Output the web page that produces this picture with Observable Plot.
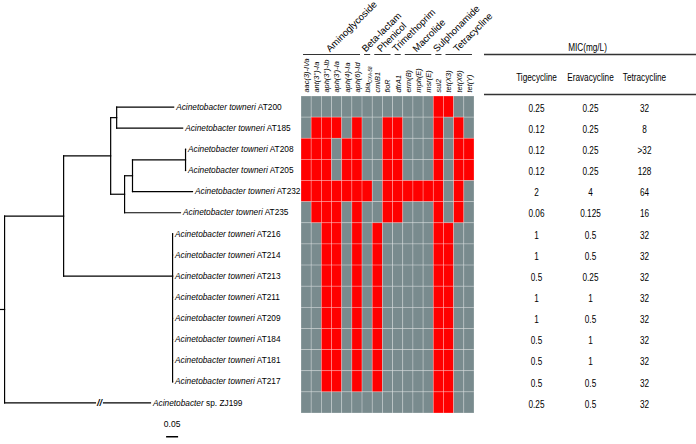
<!DOCTYPE html>
<html><head><meta charset="utf-8">
<script src="https://cdn.jsdelivr.net/npm/d3@7"></script>
<script src="https://cdn.jsdelivr.net/npm/@observablehq/plot@0.6"></script>
<style>
body{margin:0;background:#fff}
#chart{display:flex;width:696px;height:444px;background:#fff}
#chart svg{display:block;flex:none}
</style></head><body><div id="chart"></div>
<script>
// ---------------- data ----------------
const strains = ["AT200","AT185","AT208","AT205","AT232","AT235","AT216","AT214","AT213","AT211","AT209","AT184","AT181","AT217","ZJ199"];
const speciesNames = ["Acinetobacter towneri","Acinetobacter towneri","Acinetobacter towneri","Acinetobacter towneri","Acinetobacter towneri","Acinetobacter towneri","Acinetobacter towneri","Acinetobacter towneri","Acinetobacter towneri","Acinetobacter towneri","Acinetobacter towneri","Acinetobacter towneri","Acinetobacter towneri","Acinetobacter towneri","Acinetobacter"];
const strainSuffix = ["AT200","AT185","AT208","AT205","AT232","AT235","AT216","AT214","AT213","AT211","AT209","AT184","AT181","AT217","sp. ZJ199"];
// tree with branch lengths (substitutions/site)
const treeNewick = "((((AT200:0.2375,AT185:0.275):0.025,(((AT208:0,AT205:0):0.221,AT232:0.25):0.033,AT235:0.233):0.058):0.196,(AT216:0,AT214:0,AT213:0,AT211:0,AT209:0,AT184:0,AT181:0,AT217:0):0.454):0.246,ZJ199:0.608):0.017;";
const polytomyJoinLeaf = "AT213";
const branchBreakLeaf = "ZJ199";
const branchBreakSpan = [0.623, 0.678];
const scaleBarLength = 0.05;
const scaleBarLabel = "0.05";
const scaleBarStart = 0.69;

const genes = ["aac(3)-IVa","ant(3'')-Ia","aph(3'')-Ib","aph(3')-Ia","aph(4)-Ia","aph(6)-Id","blaOXA-58","cmlB1","floR","dfrA1","erm(B)","mph(E)","msr(E)","sul2","tet(X3)","tet(X6)","tet(Y)"];
const groupNames = ["Aminoglycoside","Beta-lactam","Phenicol","Trimethoprim","Macrolide","Sulphonamide","Tetracycline"];
const groupFirstGene = [0,6,7,9,10,13,14];
const groupLastGene = [5,6,8,9,12,13,16];
// presence (1) / absence (0) of each gene, one row per strain
const presence = [
  [0,0,0,0,0,0,0,0,0,0,0,0,0,1,1,0,0], // AT200
  [0,1,1,1,0,1,0,0,1,1,0,0,0,1,0,1,0], // AT185
  [1,1,1,0,1,1,0,0,1,1,0,0,0,1,0,1,1], // AT208
  [1,1,1,0,1,1,0,0,1,1,0,0,0,1,0,1,1], // AT205
  [1,1,1,1,1,1,1,0,1,1,1,1,1,1,0,1,0], // AT232
  [0,1,1,1,0,1,0,0,1,1,0,0,0,1,0,1,0], // AT235
  [0,0,1,1,0,1,0,1,0,0,0,0,0,1,1,0,0], // AT216
  [0,0,1,1,0,1,0,1,0,0,0,0,0,1,1,0,0], // AT214
  [0,0,1,1,0,1,0,1,0,0,0,0,0,1,1,0,0], // AT213
  [0,0,1,1,0,1,0,1,0,0,0,0,0,1,1,0,0], // AT211
  [0,0,1,1,0,1,0,1,0,0,0,0,0,1,1,0,0], // AT209
  [0,0,1,1,0,1,0,1,0,0,0,0,0,1,1,0,0], // AT184
  [0,0,1,1,0,1,0,1,0,0,0,0,0,1,1,0,0], // AT181
  [0,0,1,1,0,1,0,1,0,0,0,0,0,1,1,0,0], // AT217
  [0,0,0,0,0,0,0,0,0,0,0,0,0,1,1,0,0]  // ZJ199
];

const micTitle = "MIC(mg/L)";
const drugs = ["Tigecycline","Eravacycline","Tetracycline"];
const tigecycline = ["0.25","0.12","0.12","0.12","2","0.06","1","1","0.5","1","1","0.5","0.5","0.5","0.25"];
const eravacycline = ["0.25","0.25","0.25","0.25","4","0.125","0.5","0.5","0.25","1","0.5","1","1","0.5","0.5"];
const tetracycline = ["32","8",">32","128","64","16","32","32","32","32","32","32","32","32","32"];

// ---------------- helpers ----------------
function parseNewick(str) {
  const s = str.replace(/\s+/g, "").replace(/;$/, "");
  let i = 0;
  function node() {
    const n = {children: []};
    if (s[i] === "(") {
      i++;
      n.children.push(node());
      while (s[i] === ",") { i++; n.children.push(node()); }
      i++;
    }
    let name = "";
    while (i < s.length && !":,()".includes(s[i])) name += s[i++];
    n.name = name;
    n.length = 0;
    if (s[i] === ":") {
      i++;
      let num = "";
      while (i < s.length && !",()".includes(s[i])) num += s[i++];
      n.length = +num;
    }
    return n;
  }
  return node();
}

const root = parseNewick(treeNewick);
function layout(n, px) {
  n.x = px + n.length;
  n.children.forEach(c => layout(c, n.x));
  if (!n.children.length) {
    n.y = strains.indexOf(n.name) + 0.5;
  } else if (n.children.length > 2) {
    const j = n.children.find(c => c.name === polytomyJoinLeaf);
    n.y = j ? j.y : (n.children[0].y + n.children[n.children.length - 1].y) / 2;
  } else {
    n.y = (n.children[0].y + n.children[n.children.length - 1].y) / 2;
  }
}
layout(root, 0);

const segments = [];
const leaves = [];
const breaks = [];
(function walk(n, parent) {
  const px = parent ? parent.x : 0;
  if (n.name === branchBreakLeaf) {
    const a = px + (n.x - px) * branchBreakSpan[0];
    const b = px + (n.x - px) * branchBreakSpan[1];
    segments.push({x1: px, x2: a, y1: n.y, y2: n.y});
    segments.push({x1: b, x2: n.x, y1: n.y, y2: n.y});
    breaks.push({x: (a + b) / 2, y: n.y});
  } else {
    segments.push({x1: px, x2: n.x, y1: n.y, y2: n.y});
  }
  if (n.children.length) {
    segments.push({x1: n.x, x2: n.x, y1: n.children[0].y, y2: n.children[n.children.length - 1].y});
    n.children.forEach(c => walk(c, n));
  } else {
    const k = strains.indexOf(n.name);
    leaves.push({x: n.x, y: n.y, k, label: speciesNames[k] + " " + strainSuffix[k]});
  }
})(root, null);
leaves.sort((a, b) => a.k - b.k);

const rowY = {domain: [0, strains.length], range: [96, 413]};
const baseStyle = {fontFamily: "'Liberation Sans', Arial, sans-serif", fontSize: "10px", background: "transparent", overflow: "visible"};

// ---------------- tree ----------------
const treePlot = Plot.plot({
  width: 300, height: 444,
  x: {domain: [0, 1.25], range: [0, 300]},
  y: rowY,
  axis: null,
  style: baseStyle,
  marks: [
    Plot.link(segments, {x1: "x1", x2: "x2", y1: "y1", y2: "y2", stroke: "#000", strokeWidth: 1.2, strokeLinecap: "square"}),
    Plot.text(breaks, {x: "x", y: "y", text: () => "//", fontWeight: "bold", fontStyle: "italic", fontSize: 9, dy: 0.5}),
    Plot.text(leaves, {x: "x", y: "y", text: "label", dx: 2.5, textAnchor: "start", fontSize: 8.3, className: "leaf-label"}),
    Plot.text([scaleBarLabel], {x: () => scaleBarStart + scaleBarLength / 2, y: () => strains.length + 0.5, text: d => d, fontSize: 8.5}),
    Plot.link([scaleBarLength], {x1: () => scaleBarStart, x2: d => scaleBarStart + d, y1: () => strains.length + 1.1, y2: () => strains.length + 1.1, stroke: "#000", strokeWidth: 1.5})
  ]
});
const svgNS = "http://www.w3.org/2000/svg";
treePlot.querySelectorAll("g.leaf-label text").forEach((t, i) => {
  const k = leaves[i].k;
  t.textContent = "";
  const a = document.createElementNS(svgNS, "tspan");
  a.setAttribute("font-style", "italic");
  a.textContent = speciesNames[k];
  const b = document.createElementNS(svgNS, "tspan");
  b.textContent = " " + strainSuffix[k];
  t.append(a, b);
});

// ---------------- heatmap ----------------
const cells = [];
presence.forEach((row, r) => row.forEach((v, c) => cells.push({r, c, v})));
const groups = groupNames.map((name, i) => ({name, first: groupFirstGene[i], last: groupLastGene[i]}));
const heatPlot = Plot.plot({
  width: 180, height: 444,
  x: {domain: [0, genes.length], range: [1, 174]},
  y: rowY,
  color: {type: "identity"},
  axis: null,
  style: baseStyle,
  marks: [
    Plot.rect(cells, {x1: "c", x2: d => d.c + 1, y1: "r", y2: d => d.r + 1, fill: d => d.v ? "#ff0000" : "#798b8e", stroke: "rgba(255,255,255,0.35)", strokeWidth: 0.7}),
    Plot.text(genes, {x: (d, i) => i + 0.5, y: () => 0, text: d => d, dy: -4, rotate: -90, textAnchor: "start", fontStyle: "italic", fontSize: 7.4, className: "gene-label"}),
    Plot.ruleY(groups, {y: () => 0, x1: d => d.first + 0.2, x2: d => d.last + 0.8, dy: -42, stroke: "#333", strokeWidth: 1}),
    Plot.text(groups, {x: d => (d.first + d.last + 1) / 2, y: () => 0, text: "name", rotate: -45, textAnchor: "start", lineAnchor: "bottom", dx: -2, dy: -44, fontSize: 9.6})
  ]
});
heatPlot.querySelectorAll("g.gene-label text").forEach(t => {
  if (t.textContent.startsWith("bla")) {
    const rest = t.textContent.slice(3);
    t.textContent = "bla";
    const s = document.createElementNS(svgNS, "tspan");
    s.setAttribute("font-size", "4.5");
    s.setAttribute("dy", "1.5");
    s.textContent = rest;
    t.append(s);
  }
});

// ---------------- MIC table ----------------
const mic = [tigecycline, eravacycline, tetracycline];
const tableCells = [];
strains.forEach((s, r) => drugs.forEach((d, j) => tableCells.push({r, drug: d, v: mic[j][r]})));
const tablePlot = Plot.plot({
  width: 216, height: 444,
  marginLeft: 4, marginRight: 0, marginTop: 96, marginBottom: 31,
  x: {type: "point", domain: drugs, range: [28, 191]},
  y: rowY,
  axis: null,
  style: baseStyle,
  marks: [
    Plot.ruleY([0], {dy: -42, stroke: "#333", strokeWidth: 1.3}),
    Plot.ruleY([0], {dy: -2, stroke: "#333", strokeWidth: 1.3}),
    Plot.text([micTitle], {frameAnchor: "top", lineAnchor: "middle", text: d => d, dx: -3, dy: -49, fontSize: 10, className: "narrow"}),
    Plot.text(drugs, {x: d => d, y: () => 0, text: d => d, dy: -19, fontSize: 10, className: "narrow"}),
    Plot.text(tableCells, {x: "drug", y: d => d.r + 0.5, text: "v", dy: 1.5, fontSize: 10, className: "narrow"})
  ]
});

const chart = document.getElementById("chart");
chart.append(treePlot, heatPlot, tablePlot);
// condensed lettering like Arial Narrow (no narrow font installed)
tablePlot.querySelectorAll("g.narrow text").forEach(t => {
  const w = t.getComputedTextLength();
  if (w > 0) {
    t.setAttribute("textLength", (w * 0.82).toFixed(2));
    t.setAttribute("lengthAdjust", "spacingAndGlyphs");
  }
});
</script></body></html>
